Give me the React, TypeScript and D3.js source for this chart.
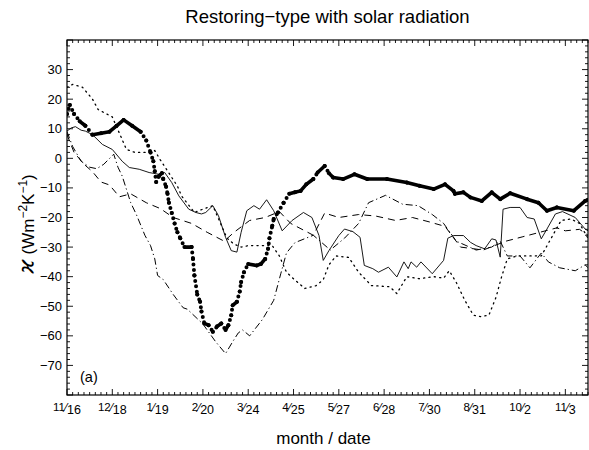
import React from 'react';
import * as d3 from 'd3';

const W = 589;
const H = 450;
const PL = 67, PR = 588, PT = 40, PB = 395;

// x in days since 11/16; major ticks every 32 days
const tickDays = [0, 32, 64, 96, 128, 160, 192, 224, 256, 288, 320, 352];
const tickNum = ['11', '12', '1', '2', '3', '4', '5', '6', '7', '8', '10', '11'];
const tickDen = ['16', '18', '19', '20', '24', '25', '27', '28', '30', '31', '2', '3'];
const yTicks = [-70, -60, -50, -40, -30, -20, -10, 0, 10, 20, 30];

// thick (dotted-bold) series
const seriesBold: [number, number][] = [
  [0, 15], [2, 18], [5, 15], [9, 12.5], [13, 11], [18, 8], [24, 8.5], [30, 9], [35, 11], [40, 13],
  [46, 11], [52, 9], [56, 6], [59, 2], [61, -1], [62, -4.4], [63, -8], [65, -6], [67, -5], [68, -7],
  [70, -9.6], [71, -12], [72, -15], [74, -18.5], [76, -22], [78, -25], [80, -27], [83, -30], [88, -30],
  [89, -34], [90, -39.6], [92, -46], [94, -48.5], [95, -51.8], [97, -55.8], [100, -56.4], [103, -58.6],
  [106, -56.8], [109, -55.8], [112, -58], [114, -56.4], [116, -53], [117, -49.7], [120, -48.5],
  [122, -45], [123, -41.8], [125, -38.5], [128, -35.7], [134, -36.2], [137, -35.7], [140, -34],
  [142, -30.6], [143, -27], [145, -22.8], [146, -20.5], [149, -18.3], [153, -15], [157, -12],
  [161, -11.5], [165, -11], [169, -8.8], [174, -7], [177, -4.8], [182, -2.6], [185, -5], [188, -6.5],
  [195, -7], [203, -5.4], [212, -7], [226, -7], [240, -8.2], [249, -9.3], [259, -10.4], [267, -8.8],
  [273, -11], [274, -12], [280, -11.5], [285, -13.2], [293, -14.4], [300, -11.5], [306, -13.8],
  [313, -11.8], [325, -13.8], [333, -15], [339, -17.7], [346, -16.6], [358, -17.7], [366, -14.4], [368, -14],
];

// thin solid series
const seriesSolid: [number, number][] = [
  [0, 9.2], [3, 10.3], [6, 10.7], [10, 9.5], [13, 9.2], [18, 8], [25, 4.7], [32, 3], [39, -1],
  [44, -3.1], [51, -3.7], [58, -4.8], [65, -5.4], [69, -4.8], [74, -8.2], [79, -12.7], [86, -17.2],
  [91, -18.3], [95, -18.8], [98, -18.3], [103, -16], [107, -19.4], [112, -26.7], [116, -31.2],
  [120, -31.7], [123, -25], [127, -17.7], [132, -16], [136, -17.2], [141, -14], [146, -17.7],
  [152, -24.5], [159, -21], [167, -18.3], [173, -20], [178, -26.1], [181, -34.5], [185, -31.2],
  [192, -26.1], [196, -23.9], [202, -24.8], [207, -26.7], [210, -36.2], [216, -37.3], [220, -38.5],
  [227, -36.8], [233, -40.1], [238, -35], [241, -37.3], [243, -35], [247, -36.8], [250, -35],
  [258, -39], [266, -34.5], [269, -27], [273, -26.1], [280, -26.1], [285, -28.4], [289, -29.5],
  [295, -30.6], [300, -27.2], [303, -27.6], [306, -33.4], [308, -17.2], [313, -16.6], [320, -16.6],
  [325, -20], [330, -20.5], [335, -27.2], [339, -23.9], [345, -18.8], [350, -18], [359, -20],
  [366, -23.9], [368, -24.5],
];

// long-dash series
const seriesDash: [number, number][] = [
  [0, 8], [5, 2], [12, -2], [18, -4.5], [24, -8], [30, -9], [37, -13], [45, -12], [56, -15],
  [66, -17], [75, -20], [88, -22], [99, -25], [111, -28], [118, -25], [129, -21], [140, -20],
  [150, -18], [158, -22], [166, -24], [174, -26], [182, -18.5], [192, -20], [206, -19], [218, -19.5],
  [232, -21], [244, -20], [256, -21.5], [267, -23], [278, -30], [294, -31], [310, -28], [322, -26.5],
  [346, -23.5], [352, -24.5], [362, -24], [368, -26],
];

// dash-dot series
const seriesDashDot: [number, number][] = [
  [0, 9], [4, 4], [10, -1], [16, -3], [21, -3.5], [26, -2], [33, 1.4], [36, -3], [39, -6], [45, -15],
  [49, -19], [55, -26], [59, -29.5], [62, -34], [64, -39.6], [68, -41], [75, -46], [82, -50.5],
  [85, -51], [96, -56], [105, -62], [112, -66], [117, -62], [121, -59], [124, -58], [129, -60],
  [138, -54.5], [146, -48], [151, -39], [155, -32], [161, -28.5], [174, -26], [186, -31], [196, -27],
  [206, -22], [213, -15], [225, -12.5], [237, -15.5], [248, -16], [258, -19], [266, -22], [275, -28],
  [289, -31], [300, -30], [306, -28], [311, -33], [320, -33], [327, -37], [335, -32], [340, -35],
  [348, -37], [359, -38], [366, -36], [368, -37],
];

// dotted series
const seriesDot: [number, number][] = [
  [0, 24], [4, 25], [11, 24], [18, 20], [22, 16.5], [32, 14], [37, 8.5], [42, 3], [48, 2], [58, 2],
  [62, 2.6], [66, -0.6], [72, -5], [78, -9.4], [81, -12.8], [90, -18.3], [97, -17], [103, -16],
  [108, -21.5], [113, -27], [118, -29], [123, -30], [128, -29.5], [145, -29.5], [150, -33],
  [155, -38.5], [160, -40.7], [168, -44], [176, -43], [181, -41], [185, -36], [190, -33], [199, -33.5],
  [206, -38.5], [215, -43], [228, -43.4], [233, -45.7], [240, -40], [249, -40.7], [259, -40],
  [266, -40.5], [270, -38], [275, -42], [281, -48], [287, -53], [292, -53.5], [298, -53], [303, -47],
  [307, -40], [311, -34], [318, -33], [328, -33], [335, -33], [342, -27], [349, -21], [356, -20.5],
  [362, -22], [368, -27],
];

const FONT = '"Liberation Sans", Arial, Helvetica, sans-serif';

export default function App() {
  const x = d3.scaleLinear().domain([0, 368]).range([PL, PR]);
  const y = d3.scaleLinear().domain([-80, 40]).range([PB, PT]);

  const line = d3
    .line<[number, number]>()
    .x((d) => x(d[0]))
    .y((d) => y(d[1]));

  const minorX = d3.range(0, 369, 4);
  const minorY = d3.range(-80, 41, 2);

  // bold series: solid where shallow, chain of dots where steep
  const boldSegs: JSX.Element[] = [];
  for (let i = 0; i < seriesBold.length - 1; i++) {
    const a = seriesBold[i];
    const b = seriesBold[i + 1];
    const dx = x(b[0]) - x(a[0]);
    const dy = y(b[1]) - y(a[1]);
    const steep = Math.abs(dy) > 1.25 * Math.abs(dx) && Math.abs(dy) > 5;
    boldSegs.push(
      <line key={'s' + i} x1={x(a[0])} y1={y(a[1])} x2={x(b[0])} y2={y(b[1])}
        stroke="#000" strokeWidth={steep ? 4 : 3.6} strokeLinecap="round"
        strokeDasharray={steep ? '0 5.5' : undefined} />
    );
  }

  return (
    <svg width={W} height={H} viewBox={`0 0 ${W} ${H}`} style={{ display: 'block', position: 'absolute', left: 0, top: 0, background: '#fff' }}>
      <rect x={0} y={0} width={W} height={H} fill="#fff" />
      <defs>
        <clipPath id="plot">
          <rect x={PL} y={PT} width={PR - PL} height={PB - PT} />
        </clipPath>
      </defs>

      <text x={(PL + PR) / 2} y={23} textAnchor="middle" fontFamily={FONT} fontSize={18.5}>
        Restoring−type with solar radiation
      </text>

      {/* ticks */}
      <g stroke="#000" strokeWidth={0.9}>
        {minorX.map((d) => {
          const major = d % 32 === 0;
          const L = major ? 6 : 3;
          return (
            <g key={'x' + d}>
              <line x1={x(d)} x2={x(d)} y1={PB} y2={PB - L} />
              <line x1={x(d)} x2={x(d)} y1={PT} y2={PT + L} />
            </g>
          );
        })}
        {minorY.map((v) => {
          const major = v % 10 === 0;
          const L = major ? 6 : 3;
          return (
            <g key={'y' + v}>
              <line x1={PL} x2={PL + L} y1={y(v)} y2={y(v)} />
              <line x1={PR} x2={PR - L} y1={y(v)} y2={y(v)} />
            </g>
          );
        })}
      </g>

      {/* y tick labels */}
      {yTicks.map((v) => (
        <text key={'yl' + v} x={PL - 5} y={y(v) + 4.5} textAnchor="end" fontFamily={FONT} fontSize={13}>
          {v < 0 ? '−' + Math.abs(v) : String(v)}
        </text>
      ))}

      {/* x tick labels as fractions */}
      {tickDays.map((d, i) => (
        <text key={'xl' + d} x={x(d)} y={414} textAnchor="middle" fontFamily={FONT} fontSize={12.5}>
          <tspan fontSize={11.5} dy={-3}>{tickNum[i]}</tspan>
          <tspan dy={1} fontSize={12}>⁄</tspan>
          <tspan dy={2}>{tickDen[i]}</tspan>
        </text>
      ))}

      <text x={(PL + PR) / 2 - 4} y={444} textAnchor="middle" fontFamily={FONT} fontSize={17}>
        month / date
      </text>

      <g transform="translate(34,224) rotate(-90)">
        <text x={0} y={0} textAnchor="middle" fontFamily={FONT} fontSize={17}>
          <tspan fontFamily='"DejaVu Sans", sans-serif' fontStyle="italic" fontSize={22}>ϰ</tspan>
          <tspan> (Wm</tspan>
          <tspan dy={-7} fontSize={12}>−2</tspan>
          <tspan dy={7}>K</tspan>
          <tspan dy={-7} fontSize={12}>−1</tspan>
          <tspan dy={7}>)</tspan>
        </text>
      </g>

      <text x={80} y={382} fontFamily={FONT} fontSize={14.5}>(a)</text>

      <g clipPath="url(#plot)" fill="none" stroke="#000">
        <path d={line(seriesDot) || ''} strokeWidth={1.3} strokeDasharray="1.2 4.2" strokeLinecap="round" />
        <path d={line(seriesDashDot) || ''} strokeWidth={1} strokeDasharray="7 3 1.2 3" />
        <path d={line(seriesDash) || ''} strokeWidth={1} strokeDasharray="7 5" />
        <path d={line(seriesSolid) || ''} strokeWidth={0.9} />
        {boldSegs}
        <g fill="#000" stroke="none">
          {seriesBold.map((d, i) => (
            <circle key={'c' + i} cx={x(d[0])} cy={y(d[1])} r={2} />
          ))}
        </g>
      </g>

      <rect x={PL} y={PT} width={PR - PL} height={PB - PT} fill="none" stroke="#000" strokeWidth={1.2} />
    </svg>
  );
}
